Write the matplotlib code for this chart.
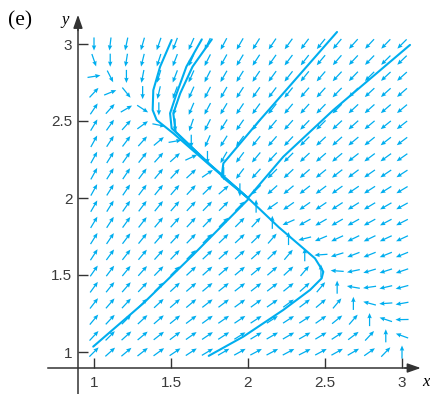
import numpy as np
import matplotlib
matplotlib.use("Agg")
import matplotlib.pyplot as plt

CYAN = "#00aeef"
AXIS = "#333333"

# =========================================================
# DATA
# =========================================================
# arrow centres: 20 columns x 20 rows over [1, 3]
grid_x = np.linspace(1, 3, 20)
grid_y = np.linspace(1, 3, 20)

# arrow directions (degrees, 0 = right, 90 = up)
# first row is the top row (y = 3), last row is the bottom row (y = 1)
angle_rows = [
    [-90, -97, -102, -106, -109, -111, -114, -116, -118, -120, -122, -124, -126, -127, -129, -130, -132, -133, -134, -135],
    [-71, -90, -99, -104, -108, -111, -114, -117, -119, -121, -123, -125, -127, -128, -130, -131, -133, -134, -135, -136],
    [9, -63, -90, -101, -107, -111, -114, -117, -120, -122, -124, -126, -128, -129, -131, -133, -134, -135, -137, -138],
    [47, 22, -51, -90, -103, -110, -114, -118, -120, -123, -125, -127, -129, -131, -132, -134, -135, -137, -138, -139],
    [56, 48, 30, -33, -90, -106, -113, -118, -121, -124, -126, -128, -130, -132, -134, -135, -137, -138, -139, -140],
    [59, 55, 48, 36, -11, -90, -109, -117, -122, -125, -128, -130, -132, -134, -135, -137, -138, -140, -141, -142],
    [61, 57, 53, 48, 40, 10, -90, -114, -122, -126, -129, -131, -133, -135, -137, -138, -140, -141, -142, -143],
    [61, 58, 55, 52, 48, 42, 25, -90, -120, -127, -130, -133, -135, -137, -139, -140, -142, -143, -144, -145],
    [61, 58, 56, 53, 50, 47, 43, 34, -90, -127, -132, -135, -137, -139, -141, -142, -143, -145, -146, -147],
    [61, 58, 56, 53, 51, 49, 47, 44, 41, -90, -135, -138, -140, -142, -143, -144, -146, -147, -148, -149],
    [60, 58, 55, 53, 51, 49, 47, 46, 45, 45, 90, -145, -145, -145, -146, -147, -148, -149, -150, -151],
    [59, 57, 54, 52, 50, 48, 47, 46, 45, 45, 47, 90, -156, -151, -150, -150, -151, -151, -152, -153],
    [58, 56, 53, 51, 49, 47, 46, 45, 44, 43, 44, 49, 90, -166, -157, -155, -154, -154, -155, -155],
    [57, 54, 52, 50, 48, 46, 45, 43, 42, 42, 42, 44, 50, 90, -176, -163, -159, -158, -158, -158],
    [55, 53, 51, 48, 46, 45, 43, 42, 41, 40, 40, 41, 43, 50, 90, 176, -168, -163, -162, -161],
    [54, 51, 49, 47, 45, 43, 41, 40, 39, 38, 38, 38, 39, 42, 50, 90, 170, -172, -167, -165],
    [52, 49, 47, 45, 43, 41, 40, 38, 37, 36, 36, 35, 36, 37, 40, 50, 90, 165, -176, -170],
    [50, 47, 45, 43, 41, 39, 37, 36, 35, 34, 33, 33, 33, 33, 35, 39, 49, 90, 162, -179],
    [47, 45, 42, 40, 38, 37, 35, 34, 33, 32, 31, 30, 30, 30, 31, 33, 37, 47, 90, 160],
    [45, 42, 40, 38, 36, 34, 33, 31, 30, 29, 28, 28, 28, 27, 28, 29, 30, 35, 46, 90],
]

# solution curves
curve1_x = [0.995, 1.32, 1.645, 2.0]
curve1_y = [1.035, 1.316, 1.632, 1.99]
curve2_x = [3.052, 2.554, 2.229, 2.0]
curve2_y = [2.994, 2.571, 2.268, 2.0]
curve3_x = [1.745, 1.97, 2.229, 2.403, 2.478, 2.489, 2.435, 2.2, 2.0]
curve3_y = [0.975, 1.10, 1.273, 1.403, 1.478, 1.521, 1.608, 1.81, 2.0]
curve4_x = [1.504, 1.429, 1.385, 1.381, 1.407, 1.515, 1.75, 2.0]
curve4_y = [3.026, 2.852, 2.70, 2.571, 2.506, 2.42, 2.215, 2.0]
curve5_x = [1.70, 1.60, 1.537, 1.494, 1.504, 1.75, 2.0]
curve5_y = [3.03, 2.853, 2.68, 2.55, 2.453, 2.22, 2.0]
curve6_x = [1.765, 1.64, 1.56, 1.515, 1.53, 1.75, 2.0]
curve6_y = [3.03, 2.853, 2.68, 2.55, 2.43, 2.22, 2.0]
curve7_x = [2.578, 2.063, 1.84, 1.829, 2.0]
curve7_y = [3.078, 2.49, 2.225, 2.14, 2.0]

x_ticks = [1, 1.5, 2, 2.5, 3]
x_tick_labels = ["1", "1.5", "2", "2.5", "3"]
y_ticks = [1, 1.5, 2, 2.5, 3]
y_tick_labels = ["1", "1.5", "2", "2.5", "3"]

# =========================================================
# PLOT
# =========================================================
ARROW_LEN = 0.085

fig = plt.figure(figsize=(4.31, 3.94), dpi=100)
ax = fig.add_axes([47.8 / 431, 0.42 / 394, 383.46 / 431, 383.46 / 394])
ax.set_xlim(0.70, 3.19)
ax.set_ylim(0.73, 3.22)

X, Y = np.meshgrid(grid_x, grid_y)
th = np.radians(np.array(angle_rows, dtype=float)[::-1])
ax.quiver(X, Y, ARROW_LEN * np.cos(th), ARROW_LEN * np.sin(th),
          angles="xy", scale_units="xy", scale=1, pivot="mid", color=CYAN,
          units="dots", width=1.25, headwidth=3.6, headlength=4.2,
          headaxislength=3.8, zorder=2)

for cx, cy in [(curve1_x, curve1_y), (curve2_x, curve2_y), (curve3_x, curve3_y),
               (curve4_x, curve4_y), (curve5_x, curve5_y), (curve6_x, curve6_y),
               (curve7_x, curve7_y)]:
    ax.plot(cx, cy, color=CYAN, lw=1.5, solid_capstyle="round", zorder=3)

# axes crossing at (0.896, 0.896), with arrow heads
for s in ["top", "right"]:
    ax.spines[s].set_visible(False)
ax.spines["left"].set_position(("data", 0.896))
ax.spines["bottom"].set_position(("data", 0.896))
ax.spines["left"].set_bounds(0.73, 3.15)
ax.spines["bottom"].set_bounds(0.70, 3.08)
for s in ["left", "bottom"]:
    ax.spines[s].set_color(AXIS)
    ax.spines[s].set_linewidth(1.1)
ax.annotate("", xy=(3.14, 0.896), xytext=(3.0, 0.896),
            arrowprops=dict(arrowstyle="-|>,head_length=0.8,head_width=0.28",
                            color=AXIS, lw=1.1, mutation_scale=10))
ax.annotate("", xy=(0.896, 3.208), xytext=(0.896, 3.07),
            arrowprops=dict(arrowstyle="-|>,head_length=0.8,head_width=0.28",
                            color=AXIS, lw=1.1, mutation_scale=10))

ax.set_xticks(x_ticks)
ax.set_xticklabels(x_tick_labels)
ax.set_yticks(y_ticks)
ax.set_yticklabels(y_tick_labels)
ax.tick_params(direction="in", length=7, width=1.0, color=AXIS,
               labelcolor="#3a3a3a", labelsize=11)
ax.tick_params(axis="x", pad=6)
ax.tick_params(axis="y", pad=4)
for lab in ax.get_xticklabels() + ax.get_yticklabels():
    lab.set_family("Liberation Sans")

ax.text(0.812, 3.156, "y", style="italic", family="Liberation Serif",
        fontsize=12, ha="center", va="center")
ax.text(3.158, 0.805, "x", style="italic", family="Liberation Serif",
        fontsize=12, ha="center", va="center")
fig.text(20 / 431, 1 - 21 / 394, "(e)", family="Liberation Serif",
         fontsize=15.5, ha="center", va="center")

fig.savefig("out.png", dpi=100)
